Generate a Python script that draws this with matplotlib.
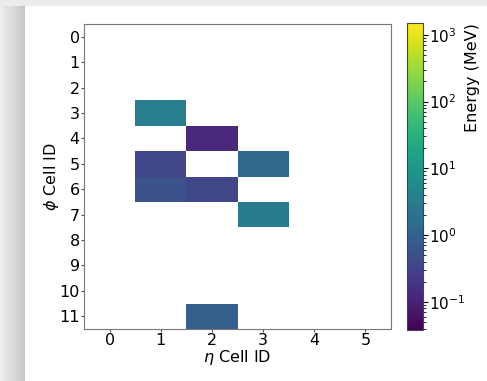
import matplotlib
matplotlib.use("Agg")
import matplotlib.pyplot as plt
import matplotlib.colors as mcolors
import numpy as np

# eta / phi cell ids
eta_ids = [0, 1, 2, 3, 4, 5]
phi_ids = list(range(12))

# hit cells (eta, phi) -> energy in MeV
hit_eta = [1, 2, 1, 3, 1, 2, 3, 2]
hit_phi = [3, 4, 5, 5, 6, 6, 7, 11]
hit_energy = [3.2, 0.13, 0.34, 1.3, 0.55, 0.35, 3.0, 0.9]

VMIN, VMAX = 0.038, 1500

grid = np.full((len(phi_ids), len(eta_ids)), np.nan)
for e, p, v in zip(hit_eta, hit_phi, hit_energy):
    grid[p, e] = v

fig = plt.figure(figsize=(4.87, 3.81), dpi=100, facecolor="#ececec")

# screenshot-style shadow frame
bg = fig.add_axes([0, 0, 1, 1])
bg.set_axis_off()
shade = np.linspace(0.93, 0.78, 25)
bg.imshow(np.tile(shade, (10, 1)), cmap="gray", vmin=0, vmax=1, aspect="auto",
          extent=[0, 25 / 487, 0, 1 - 6 / 381], transform=bg.transAxes)
bg.add_patch(plt.Rectangle((25 / 487, 0), 1, 1 - 6 / 381, transform=bg.transAxes,
                           facecolor="white", edgecolor="none"))
bg.set_xlim(0, 1)
bg.set_ylim(0, 1)

ax = fig.add_axes([84 / 487, 1 - 329 / 381, (391 - 84) / 487, (329 - 24) / 381])
cax = fig.add_axes([407 / 487, 1 - 330 / 381, 16 / 487, (330 - 23) / 381])

norm = mcolors.LogNorm(vmin=VMIN, vmax=VMAX)
mesh = ax.pcolormesh(np.arange(-0.5, len(eta_ids)), np.arange(-0.5, len(phi_ids)),
                     np.ma.masked_invalid(grid), cmap="viridis", norm=norm)
ax.set_xlim(-0.5, len(eta_ids) - 0.5)
ax.set_ylim(len(phi_ids) - 0.5, -0.5)
ax.set_xticks(eta_ids)
ax.set_yticks(phi_ids)
ax.tick_params(labelsize=11.5, length=2, pad=1, color="#555555")
ax.set_xlabel(r"$\eta$ Cell ID", fontsize=11.5, labelpad=0)
ax.set_ylabel(r"$\phi$ Cell ID", fontsize=11.5, labelpad=-1)
for s in ax.spines.values():
    s.set_color("#777777")

cb = fig.colorbar(mesh, cax=cax)
cb.set_label("Energy (MeV)", fontsize=11.5, loc="top", labelpad=0)
cb.ax.tick_params(labelsize=11, pad=1)
cb.outline.set_edgecolor("#444444")

fig.savefig("out.png", dpi=100, facecolor=fig.get_facecolor())
